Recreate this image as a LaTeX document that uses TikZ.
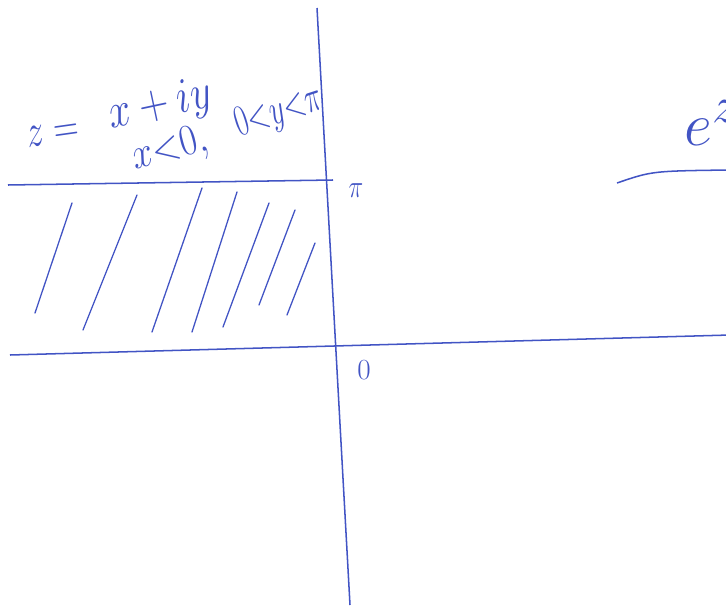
\documentclass[tikz,border=0pt]{standalone}
\usepackage{amsmath}
\usepackage{amssymb}
\usepackage{tikz}
\usetikzlibrary{calc}
\definecolor{penblue}{RGB}{66,84,196}
\tikzset{axisline/.style={draw=penblue, line width=1.3pt}}
\tikzset{hatchline/.style={draw=penblue, line width=1.1pt, line cap=round}}
\tikzset{handtext/.style={text=penblue, inner sep=0pt, font=\Huge}}

\begin{document}
\begin{tikzpicture}[x=0.03cm, y=-0.03cm]
\useasboundingbox (0,0) rectangle (726,612);

\coordinate (vtop) at (317,8);
\coordinate (vbot) at (350,605);
\coordinate (hleft) at (10,355);
\coordinate (hright) at (730,335);
\coordinate (tleft) at (8,185);
\coordinate (tright) at (333,180);

\draw[axisline] (vtop) -- (vbot);
\draw[axisline] (hleft) -- (hright);
\draw[axisline] (tleft) -- (tright);

% strip shading
\draw[hatchline] (72,203) -- (35,313);
\draw[hatchline] (137,195) -- (83,330);
\draw[hatchline] (202,188) -- (152,332);
\draw[hatchline] (237,192) -- (192,332);
\draw[hatchline] (269,203) -- (223,327);
\draw[hatchline] (295,210) -- (259,305);
\draw[hatchline] (315,243) -- (287,315);

\node[handtext, xscale=0.85, yscale=1.1] (pi) at (356,191) {$\pi$};
\node[handtext] (zero) at (364,370) {$0$};

\node[handtext, rotate=8, xscale=1.2, yscale=1.6] (zeq) at (53,134) {$z=$};
\node[handtext, rotate=12, xscale=1.4, yscale=1.7] (zsum) at (160,106) {$x+iy$};
\node[handtext, rotate=15, xscale=1.3, yscale=1.5] (xneg) at (170,150) {$x{<}0,$};
\node[handtext, rotate=18, xscale=1.0, yscale=1.5] (ystrip) at (279,113) {$0{<}y{<}\pi$};

\node[handtext, scale=2.1, anchor=base west] (ez) at (684,145) {$e^z$};
\draw[axisline] (617,183) .. controls (652,171) .. (730,170);
\end{tikzpicture}
\end{document}
